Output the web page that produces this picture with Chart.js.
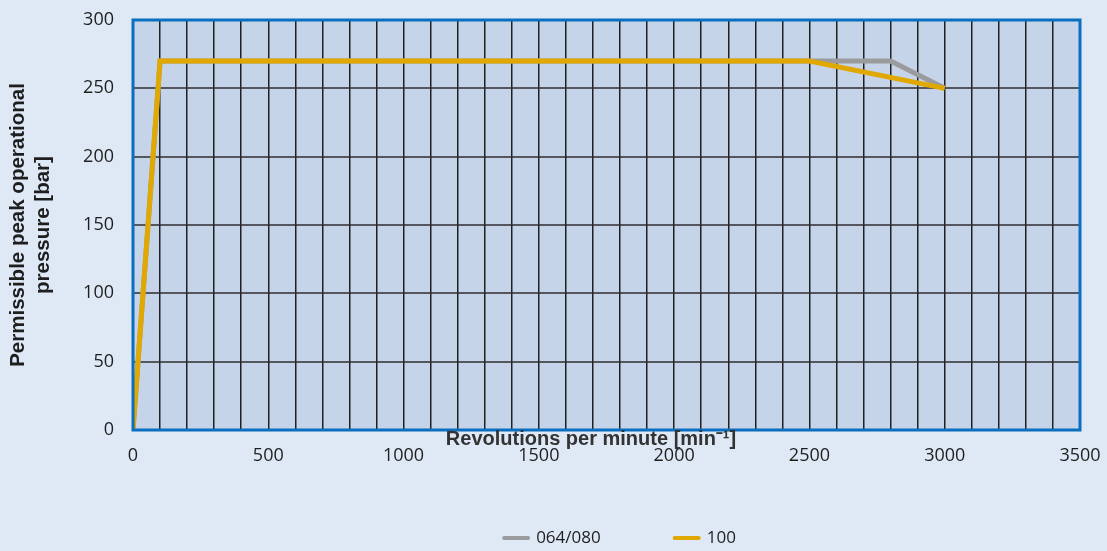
<!DOCTYPE html>
<html>
<head>
<meta charset="utf-8">
<script src="https://cdn.jsdelivr.net/npm/chart.js@4.4.1/dist/chart.umd.min.js"></script>
<style>
  html, body { margin: 0; padding: 0; background: #dfe9f6; }
  #wrap { width: 1107px; height: 551px; }
</style>
</head>
<body>
<div id="wrap"><canvas id="chart" width="1107" height="551"></canvas></div>
<script>
// --- data ---
const seriesNames = ['064/080', '100'];
const rpm064 = [0, 100, 2800, 3000];
const bar064 = [0, 270, 270, 250];
const rpm100 = [0, 100, 2500, 3000];
const bar100 = [0, 270, 270, 250];
const xLabelEvery = 500;
const xTitle = 'Revolutions per minute [min\u207B\u00B9]';
const yTitle = ['Permissible peak operational', 'pressure [bar]'];

const GREY = '#9a9b9d';
const GOLD = '#e0a800';
const PLOT_BG = '#c6d4ea';
const FRAME = '#0b6fc0';
const TEXT = '#1e1e1e';

const toPoints = (xs, ys) => xs.map((x, i) => ({ x, y: ys[i] }));

// drop the extra room Chart.js reserves for half tick labels, layout padding decides
const noEdgePad = s => { s.paddingTop = 0; s.paddingBottom = 0; s.paddingLeft = 0; s.paddingRight = 0; };

// fills the page background and plot area, frames it, writes the x title and legend
const decor = {
    id: 'decor',
    beforeDraw(chart) {
        const { ctx, chartArea: a } = chart;
        ctx.save();
        ctx.fillStyle = '#dfe9f6';
        ctx.fillRect(0, 0, chart.width, chart.height);
        ctx.fillStyle = PLOT_BG;
        ctx.fillRect(a.left, a.top, a.right - a.left, a.bottom - a.top);
        ctx.restore();
    },
    afterDatasetsDraw(chart) {
        const { ctx, chartArea: a } = chart;
        ctx.save();
        ctx.strokeStyle = FRAME;
        ctx.lineWidth = 3;
        ctx.strokeRect(a.left, a.top, a.right - a.left, a.bottom - a.top);
        ctx.restore();
    },
    afterDraw(chart) {
        const { ctx } = chart;
        ctx.save();
        // x axis title sits between the frame and the tick labels
        ctx.font = 'bold 20px "Liberation Sans", Arial, sans-serif';
        ctx.fillStyle = '#333';
        ctx.textAlign = 'center';
        ctx.textBaseline = 'middle';
        ctx.fillText(xTitle, 591, 439);

        // legend: short thick lines with labels
        ctx.font = '17px "Open Sans", sans-serif';
        ctx.textAlign = 'left';
        const lineW = 28, gapText = 6, gapItem = 72, cy = 538;
        const items = chart.data.datasets.map(ds => ({
            label: ds.label, color: ds.borderColor, w: lineW + gapText + ctx.measureText(ds.label).width
        }));
        const total = items.reduce((s, it) => s + it.w, 0) + gapItem * (items.length - 1);
        let x = 619 - total / 2;
        items.forEach(it => {
            ctx.strokeStyle = it.color;
            ctx.lineWidth = 4;
            ctx.lineCap = 'round';
            ctx.beginPath();
            ctx.moveTo(x + 2, cy);
            ctx.lineTo(x + lineW - 2, cy);
            ctx.stroke();
            ctx.fillStyle = TEXT;
            ctx.fillText(it.label, x + lineW + gapText, cy);
            x += it.w + gapItem;
        });
        ctx.restore();
    }
};

new Chart(document.getElementById('chart'), {
    type: 'line',
    data: {
        datasets: [
            { label: seriesNames[0], data: toPoints(rpm064, bar064), borderColor: GREY, backgroundColor: GREY, order: 1 },
            { label: seriesNames[1], data: toPoints(rpm100, bar100), borderColor: GOLD, backgroundColor: GOLD, order: 0 }
        ]
    },
    options: {
        responsive: false,
        animation: false,
        layout: { padding: { top: 20, right: 27, left: 0, bottom: 0 } },
        elements: {
            line: { tension: 0, borderWidth: 5, fill: false },
            point: { radius: 0 }
        },
        scales: {
            x: {
                type: 'linear', min: 0, max: 3500,
                afterFit: s => { s.height = 121; noEdgePad(s); },
                ticks: {
                    stepSize: 100, autoSkip: false, maxRotation: 0, padding: 15,
                    color: TEXT, font: { family: '"Open Sans", sans-serif', size: 18 },
                    callback: v => (v % xLabelEvery === 0 ? String(v) : '')
                },
                grid: { color: '#202020', lineWidth: 1.5, drawTicks: false },
                border: { display: false }
            },
            y: {
                min: 0, max: 300,
                afterFit: s => { s.width = 133; noEdgePad(s); },
                ticks: {
                    stepSize: 50, padding: 19,
                    color: TEXT, font: { family: '"Open Sans", sans-serif', size: 18 }
                },
                grid: { color: 'rgba(45,45,45,0.75)', lineWidth: 2, drawTicks: false },
                border: { display: false },
                title: {
                    display: true, text: yTitle, color: TEXT,
                    font: { family: '"Liberation Sans", Arial, sans-serif', size: 20.5, weight: 'bold', lineHeight: 1.2 },
                    padding: { top: 6, bottom: 0 }
                }
            }
        },
        plugins: {
            legend: { display: false },
            tooltip: { enabled: false }
        }
    },
    plugins: [decor]
});
</script>
</body>
</html>
